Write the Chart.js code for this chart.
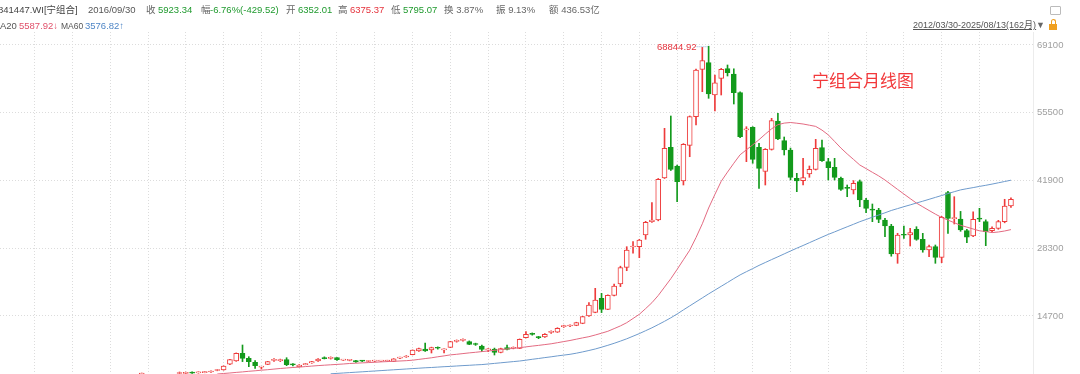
<!DOCTYPE html>
<html>
<head>
<meta charset="utf-8">
<script src="https://cdn.jsdelivr.net/npm/chart.js@4/dist/chart.umd.min.js"></script>
<style>
  body { margin: 0; background: #fff; }
  #wrap { position: relative; width: 1080px; height: 374px; overflow: hidden; }
  #c { position: absolute; left: 0; top: 0; }
  .t { position: absolute; font-family: "Liberation Sans", "Noto Sans CJK SC", sans-serif; font-size: 9.5px; line-height: 12px; white-space: nowrap; color: #555; }
  .g { color: #1f9a2e; }
  .r { color: #e5323c; }
  .p { color: #e0506a; }
  .b { color: #4f86c6; }
  .lbl { color: #666; }
  #note { position: absolute; left: 812px; top: 70px; font-family: "Noto Sans CJK SC", sans-serif; font-size: 17px; color: #f2383a; line-height: 20px; }
  #lock { position: absolute; left: 1049px; top: 24px; width: 8px; height: 6px; background: #f0a020; }
  #lock:before { content: ""; position: absolute; left: 2px; top: -5px; width: 5px; height: 5px; border: 1px solid #f0a020; border-bottom: none; border-radius: 3px 3px 0 0; box-sizing: border-box; }
  #mon { position: absolute; left: 1050px; top: 6px; width: 9px; height: 7px; border: 1px solid #bbb; border-radius: 1px; }
</style>
</head>
<body>
<div id="wrap">
  <canvas id="c" width="1080" height="374"></canvas>

  <span class="t" style="left:-2px;top:4px;color:#444">841447.WI[宁组合]</span>
  <span class="t" style="left:88px;top:4px">2016/09/30</span>
  <span class="t lbl" style="left:146px;top:4px">收</span>
  <span class="t g" style="left:158px;top:4px">5923.34</span>
  <span class="t lbl" style="left:201px;top:4px">幅</span>
  <span class="t g" style="left:210px;top:4px">-6.76%(-429.52)</span>
  <span class="t lbl" style="left:286px;top:4px">开</span>
  <span class="t g" style="left:298px;top:4px">6352.01</span>
  <span class="t lbl" style="left:338px;top:4px">高</span>
  <span class="t r" style="left:350px;top:4px">6375.37</span>
  <span class="t lbl" style="left:391px;top:4px">低</span>
  <span class="t g" style="left:403px;top:4px">5795.07</span>
  <span class="t lbl" style="left:444px;top:4px">换 3.87%</span>
  <span class="t lbl" style="left:496px;top:4px">振 9.13%</span>
  <span class="t lbl" style="left:549px;top:4px">额 436.53亿</span>

  <span class="t" style="left:-8px;top:20px">MA20</span>
  <span class="t p" style="left:19px;top:20px">5587.92↓</span>
  <span class="t" style="left:61px;top:20px;font-size:8.5px">MA60</span>
  <span class="t b" style="left:85px;top:20px">3576.82↑</span>

  <span class="t" style="left:913px;top:19px;font-size:9px;text-decoration:underline">2012/03/30-2025/08/13(162月)</span>
  <span class="t" style="left:1036px;top:19px;color:#666;font-size:9px">▼</span>
  <div id="lock"></div>
  <div id="mon"></div>
  <div id="note">宁组合月线图</div>
</div>

<script>
// monthly candles, index 0 = 2012/04 ... index 160 = 2025/08 (null = below the visible range)
const startYear = 2012, startMonth = 4;
const monthCount = 161;
const emptySlots = 3;

const opens = [
  null,null,null,null,null,null,null,null,null,null,null,null,null,null,null,null,null,null,null,null,null,null,
  2700,null,null,null,null,null,
  3160,3200,3400,3300,3350,3461,3760,3862,5008,5668,7214,6211,5408,4450,5005,5800,5750,5932,4950,4525,
  4950,5287,5668,6200,6200,6352.01,5850,5780,5730,5700,5560,5640,5650,5660,5608,6230,6470,6952,7676,8057,
  7876,8300,7900,8418,9600,9800,9542,9050,8679,7900,8057,7375,8339,8230,8218,10345,11100,10420,10486,11400,
  11468,12580,12700,12833,13235,14700,15443,18252,16045,18855,21122,24474,28550,28610,30956,33626,33967,42396,48558,44805,
  41795,48960,54700,64213,65537,59055,62406,64334,63269,59516,52070,52571,48558,43741,48156,53836,49882,48016,42336,41855,
  43199,44142,48477,45668,44544,42336,40450,39989,41654,37981,36050,35974,33967,32763,27143,31050,30956,32100,30094,27946,
  28610,26480,39446,34250,34167,31820,30756,34250,33626,31821,32301,33626,36777
];
const closes = [
  null,null,null,null,null,null,null,null,null,null,null,null,null,null,null,null,null,null,null,null,null,null,
  2850,null,null,null,null,null,
  3360,3380,3250,3420,3480,3661,3820,4665,5932,7214,6211,5528,4726,4530,5528,5880,5830,4926,4880,4866,
  5100,5528,6070,6130,6280,5923.34,5900,5840,5470,5640,5620,5700,5700,5720,6090,6290,6530,7836,8138,7676,
  8339,8230,8057,9542,9680,9883,9020,8980,8017,8057,7375,8138,8017,8300,10024,11028,11020,10350,11028,11480,
  12230,12650,12760,13355,14560,16908,17911,16045,18855,20721,24394,27946,28700,29953,33505,33967,42135,48357,44142,41654,
  49160,54700,64072,65938,59255,61522,64213,63531,59516,50685,52170,46149,44343,48156,53896,50264,48016,42536,41795,42456,
  44142,48357,45868,44463,42536,40128,40330,41333,37981,36315,35950,34107,32763,27143,30956,30900,31418,30094,27946,28610,
  26480,34509,34308,34400,31960,30496,34107,34150,31620,32301,33626,36777,38122
];
const highs = [
  null,null,null,null,null,null,null,null,null,null,null,null,null,null,null,null,null,null,null,null,null,null,
  3250,null,null,null,null,null,
  3460,3450,3480,3500,3560,3720,3960,4700,5990,7290,8880,6531,5729,4600,5600,6150,6050,6331,5150,4950,
  5200,5600,6150,6500,6500,6375.37,6000,5950,5800,5780,5700,5800,5820,5820,6150,6450,6750,7900,8250,9281,
  8450,8500,8100,9620,9900,10100,9700,9250,8880,8150,8260,8250,8880,8500,10100,11550,11300,10600,11150,11700,
  12350,12850,12950,13450,14650,17370,20259,19255,18950,21122,24700,28610,29632,30100,33700,37440,42300,52370,54840,45000,
  49300,54850,64250,68627,68844.92,63069,64400,65076,64313,59700,52691,52700,49360,48300,54378,55381,50625,48400,43340,46350,
  44805,50163,50023,46350,46350,42600,40991,41875,41995,38323,37178,36315,34308,33100,31300,32763,32301,32621,31298,28950,
  28950,34700,39700,38644,35694,32100,35613,36315,34000,32600,33900,38122,38400
];
const lows = [
  null,null,null,null,null,null,null,null,null,null,null,null,null,null,null,null,null,null,null,null,null,null,
  2600,null,null,null,null,null,
  3100,3120,3180,3220,3300,3400,3700,3820,4950,5600,5547,4524,4203,4060,4950,5600,5550,4726,4700,4450,
  4900,5200,5600,6080,6050,5795.07,5780,5700,5400,5550,5500,5550,5560,5580,5550,6150,6400,6900,7600,7600,
  7274,8050,7274,8350,9450,9650,8950,8800,7536,7536,6873,7300,7900,8100,8150,10280,10850,10150,10400,11200,
  11400,12400,12550,12750,13150,14600,15350,15383,15950,18750,20600,23791,27285,26400,30094,33500,33800,42300,43900,37640,
  40991,46670,53034,59717,58392,55844,59055,62869,57248,50500,45668,45347,40329,40991,48000,50100,47013,42000,39647,40991,
  42536,44000,45700,41995,41995,39900,38643,39186,36637,35433,33626,33425,30615,26700,25276,30295,28750,29900,27500,26600,
  25276,25400,31298,33164,31700,29411,30600,33626,28810,31600,32100,33400,36500
];

const ma20 = [
  null,null,null,null,null,null,null,null,null,null,null,null,null,null,null,null,null,null,null,null,
  null,null,null,null,null,null,null,null,null,null,null,null,null,null,
  3059,3160,3260,3381,3481,3602,3702,3823,3923,4044,4164,4264,4365,4445,4546,4646,
  4746,4827,4907,4987,5068,5168,5229,5289,5349,5409,5490,5550,5610,5670,5731,5831,5992,6153,6313,6514,
  6695,6895,7016,7156,7297,7417,7558,7678,7819,7939,8078,8199,8339,8500,8660,8801,8962,9122,9343,9564,
  9785,10046,10307,10548,10887,11249,11630,12172,12714,13356,14199,15041,16185,17370,18814,20500,22186,24053,25980,27906,
  30436,33206,36375,39104,41736,43582,45355,47057,48056,49039,50083,51207,52270,53093,53414,53535,53394,53234,52993,52752,
  52010,51046,49742,48417,47233,46129,45006,44283,43541,42818,41995,41052,40109,39185,38262,37359,36616,35874,35151,34469,
  33947,33425,32903,32542,32160,31800,31660,31439,31559,31760,32041
];
const ma60 = [
  null,null,null,null,null,null,null,null,null,null,null,null,null,null,null,null,null,null,null,null,
  null,null,null,null,null,null,null,null,null,null,null,null,null,null,null,null,null,null,null,null,
  null,null,null,null,null,null,null,null,null,null,null,null,
  3100,3180,3260,3341,3421,3501,3582,3662,3742,3823,3903,3983,4063,4144,4224,4304,4365,4445,
  4525,4586,4665,4746,4806,4886,4947,5066,5187,5307,5428,5548,5668,5829,6010,6170,6351,6510,6691,6852,
  7012,7233,7495,7776,8077,8438,8819,9221,9662,10124,10646,11167,11750,12331,12974,13636,14339,15103,15926,16728,
  17531,18334,19136,19899,20662,21424,22207,22950,23592,24214,24856,25439,26021,26583,27165,27747,28308,28850,29412,29974,
  30536,31078,31580,32101,32603,33105,33627,34068,34530,34970,35412,35874,36255,36636,36997,37379,37740,38122,38503,38884,
  39266,39647,40008,40250,40470,40711,40932,41172,41433,41694,41955
];

const yTicks = [14700, 28300, 41900, 55500, 69100];
const yMin = 3059, yMax = 71699;

const months = [];
for (let i = 0; i < monthCount; i++) {
  const m = startMonth - 1 + i;
  const y = startYear + Math.floor(m / 12);
  months.push(y + "/" + String((m % 12) + 1).padStart(2, "0"));
}
for (let i = 0; i < emptySlots; i++) months.push("");

const RED = "#ee3b3b";
const GREEN = "#139a1c";

const isUp = (i) => closes[i] >= opens[i];
const bodies = opens.map((o, i) => (o == null ? null : [o, closes[i]]));
const wicks = lows.map((l, i) => (l == null ? null : [l, highs[i]]));
const edge = opens.map((o, i) => (o == null ? RED : isUp(i) ? RED : GREEN));
const fill = opens.map((o, i) => (o == null ? "#fff" : isUp(i) ? "#fff" : GREEN));

// label on the highest high, placed through the scales
const maxLabel = {
  id: "maxLabel",
  afterDatasetsDraw(chart) {
    let best = -1;
    highs.forEach((h, i) => { if (h != null && (best < 0 || h > highs[best])) best = i; });
    const x = chart.scales.x.getPixelForValue(best);
    const y = chart.scales.y.getPixelForValue(highs[best]);
    const ctx = chart.ctx;
    ctx.save();
    ctx.strokeStyle = "#8fb3d6";
    ctx.setLineDash([1, 1]);
    ctx.beginPath();
    ctx.moveTo(x - 12, y + 0.5);
    ctx.lineTo(x, y + 0.5);
    ctx.stroke();
    ctx.fillStyle = "#e5323c";
    ctx.font = '9.5px "Liberation Sans", sans-serif';
    ctx.textAlign = "right";
    ctx.textBaseline = "middle";
    ctx.fillText(highs[best].toFixed(2), x - 12, y + 1);
    ctx.restore();
  },
};

const gridColor = "#dcdcdc";
const dash = [1, 2];

new Chart(document.getElementById("c"), {
  type: "bar",
  data: {
    labels: months,
    datasets: [
      {
        type: "line",
        data: ma20,
        borderColor: "#e36b82",
        borderWidth: 1,
        pointRadius: 0,
        order: 0,
      },
      {
        type: "line",
        data: ma60,
        borderColor: "#6f9bcc",
        borderWidth: 1,
        pointRadius: 0,
        order: 0,
      },
      {
        data: bodies,
        backgroundColor: fill,
        borderColor: edge,
        borderWidth: 1,
        borderSkipped: false,
        barThickness: 5,
        minBarLength: 1,
        grouped: false,
        order: 1,
      },
      {
        data: wicks,
        backgroundColor: edge,
        borderWidth: 0,
        barThickness: 1,
        grouped: false,
        order: 2,
      },
    ],
  },
  options: {
    responsive: false,
    animation: false,
    devicePixelRatio: 1,
    layout: { padding: { top: 32, left: 0, right: 0, bottom: 0 } },
    plugins: { legend: { display: false }, tooltip: { enabled: false } },
    scales: {
      x: {
        ticks: { display: false },
        grid: { offset: false, drawTicks: false, color: gridColor },
        border: { display: false, dash: dash },
        afterBuildTicks: (s) => {
          s.ticks = s.ticks.filter((t) => t.value % 6 === 5 && t.value < monthCount);
        },
        afterFit: (s) => { s.height = 0; s.paddingLeft = 0; s.paddingRight = 0; },
      },
      y: {
        position: "right",
        min: yMin,
        max: yMax,
        afterBuildTicks: (s) => { s.ticks = yTicks.map((v) => ({ value: v })); },
        afterFit: (s) => { s.width = 47; s.paddingTop = 0; s.paddingBottom = 0; },
        ticks: {
          color: "#a0a0a0",
          padding: 4,
          font: { family: "Liberation Sans", size: 9.5 },
          callback: (v) => String(v),
        },
        grid: { drawTicks: false, color: gridColor },
        border: { display: true, color: "#ececec", dash: dash },
      },
    },
  },
  plugins: [maxLabel],
});
</script>
</body>
</html>
